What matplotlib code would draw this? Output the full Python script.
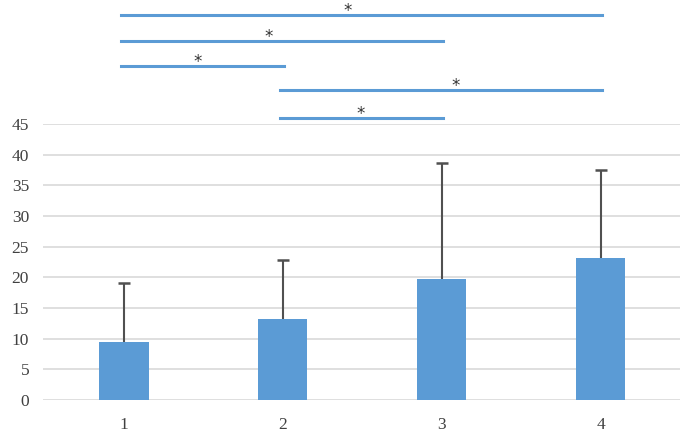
import matplotlib
matplotlib.use("Agg")
from matplotlib import pyplot as plt
import numpy as np

groups = ["1", "2", "3", "4"]
means = [9.4, 13.2, 19.8, 23.2]
upper_err = [9.7, 9.6, 18.8, 14.3]

# significance brackets: (from group, to group, height, star x)
pairs = [(1, 4, 62.8, 2.41), (1, 3, 58.6, 1.91), (1, 2, 54.5, 1.465),
         (2, 4, 50.6, 3.09), (2, 3, 46.0, 2.49)]

plt.rcParams['font.family'] = ['Liberation Serif', 'DejaVu Serif']

fig = plt.figure(figsize=(6.85, 4.37), dpi=100)
ax = fig.add_axes([43 / 685, 37 / 437, 637 / 685, 276 / 437])

x = np.arange(1, len(groups) + 1)
tops = np.array(means) + np.array(upper_err)
ax.bar(x, means, width=0.31, color='#5B9BD5', zorder=3)
ax.vlines(x, means, tops, color='#505050', lw=1.5, zorder=4)
ax.plot(x, tops, ls='none', marker='_', ms=9, mew=1.8, color='#505050', zorder=4)

ax.set_xlim(0.49, 4.5)
ax.set_ylim(0, 45)
ax.set_yticks(np.arange(0, 50, 5))
ax.set_xticks(x)
ax.set_xticklabels(groups)
ax.yaxis.grid(True, color='#D9D9D9', linewidth=1.2, zorder=0)
ax.set_axisbelow(True)
for s in ax.spines.values():
    s.set_visible(False)
ax.tick_params(axis='both', length=0, labelsize=12.5, colors='#404040')
ax.tick_params(axis='y', pad=10)
ax.tick_params(axis='x', pad=12)

for a, b, h, sx in pairs:
    ax.plot([a - 0.02, b + 0.01], [h, h], color='#5B9BD5', lw=2.2, clip_on=False)
    ax.text(sx, h - 0.2, '*', ha='center', va='baseline', family='DejaVu Sans',
            fontsize=12, color='#333333', clip_on=False)

plt.savefig("out.png", dpi=100)
